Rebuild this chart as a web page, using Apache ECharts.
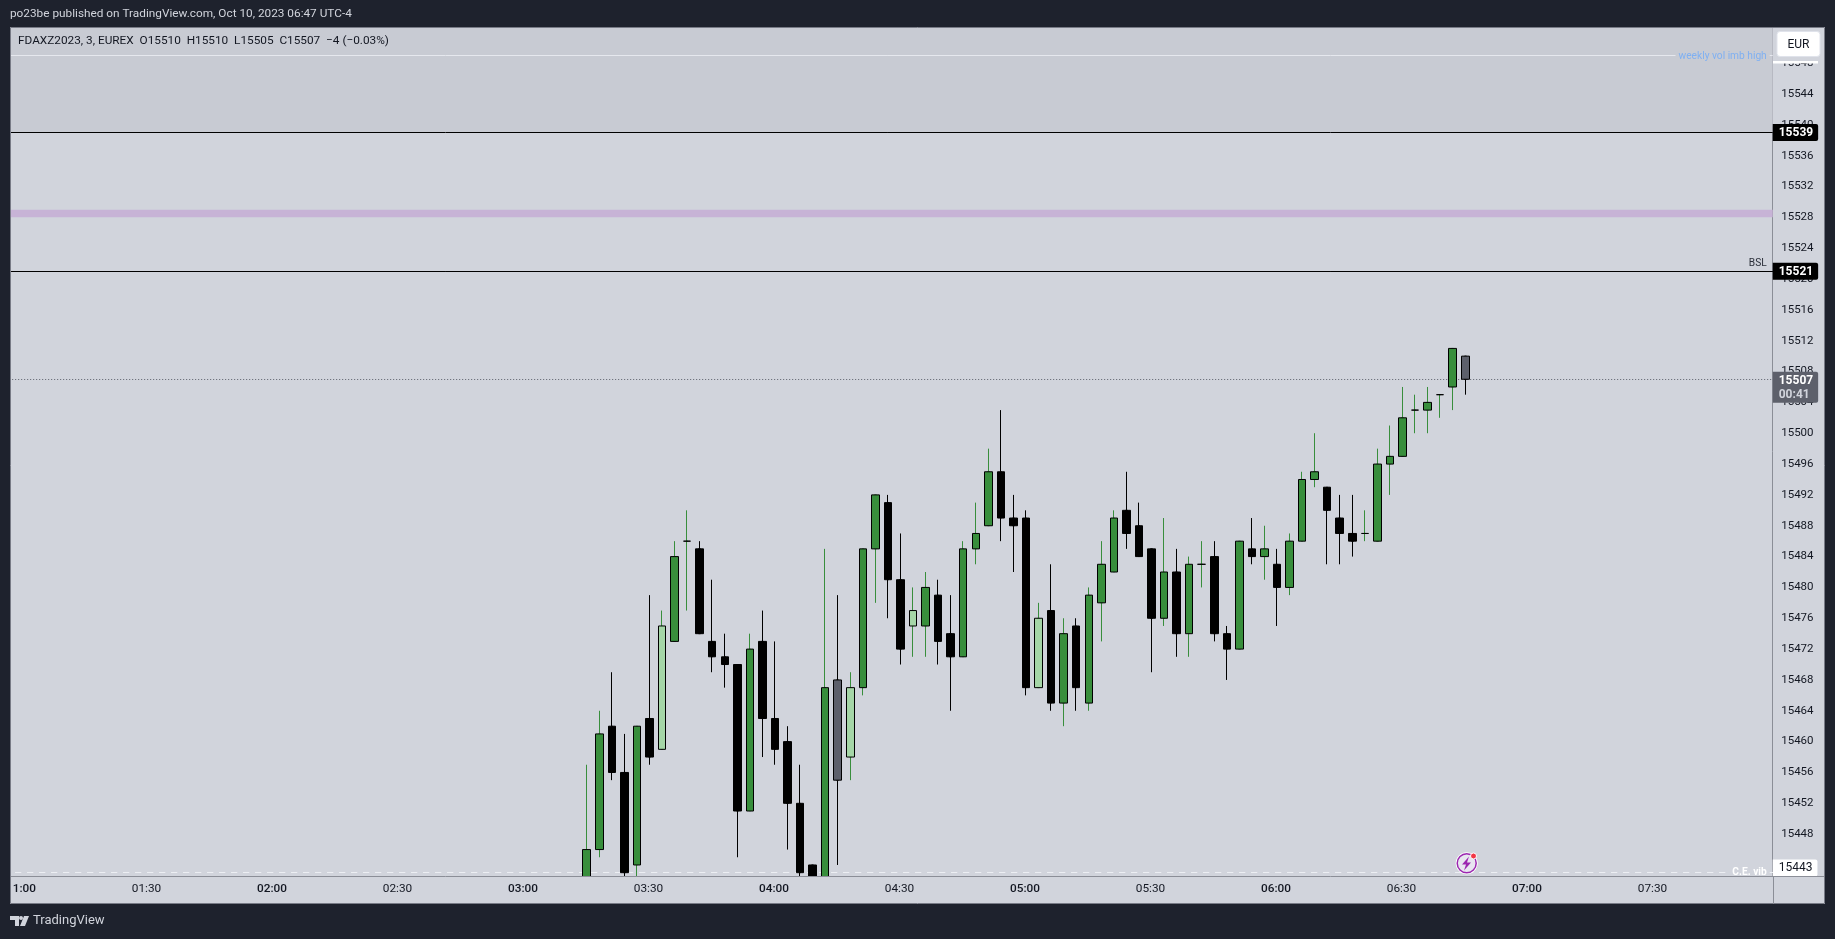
<!DOCTYPE html>
<html>
<head>
<meta charset="utf-8">
<title>FDAXZ2023, 3, EUREX</title>
<script src="https://cdn.jsdelivr.net/npm/echarts@6/dist/echarts.min.js"></script>
<style>
  html, body { margin: 0; padding: 0; background: #1e222d; }
  #chart { width: 1835px; height: 939px; }
</style>
</head>
<body>
<div id="chart"></div>
<script>
// 3 minute bars, 03:15 to 06:45
const firstBarTime = '03:15'
const opens = [15441, 15446, 15462, 15456, 15444, 15463, 15459, 15473, 15486, 15485, 15473, 15471, 15470, 15451, 15473, 15463, 15460, 15452, 15444, 15441, 15468, 15458, 15467, 15485, 15491, 15481, 15475, 15475, 15479, 15474, 15471, 15485, 15488, 15495, 15489, 15489, 15467, 15477, 15465, 15475, 15465, 15478, 15482, 15490, 15488, 15485, 15476, 15482, 15474, 15483, 15484, 15474, 15472, 15485, 15484, 15483, 15480, 15486, 15494, 15493, 15489, 15487, 15487, 15486, 15496, 15497, 15503, 15503, 15505, 15506, 15510]
const closes = [15446, 15461, 15456, 15443, 15462, 15458, 15475, 15484, 15486, 15474, 15471, 15470, 15451, 15472, 15463, 15459, 15452, 15443, 15441, 15467, 15455, 15467, 15485, 15492, 15481, 15472, 15477, 15480, 15473, 15471, 15485, 15487, 15495, 15489, 15488, 15467, 15476, 15465, 15474, 15467, 15479, 15483, 15489, 15487, 15484, 15476, 15482, 15474, 15483, 15483, 15474, 15472, 15486, 15484, 15485, 15480, 15486, 15494, 15495, 15490, 15487, 15486, 15487, 15496, 15497, 15502, 15503, 15504, 15505, 15511, 15507]
const lows = [15440, 15445, 15455, 15441, 15441, 15457, 15459, 15473, 15477, 15474, 15469, 15467, 15445, 15451, 15458, 15457, 15446, 15441, 15440, 15440, 15444, 15455, 15466, 15478, 15476, 15470, 15471, 15471, 15470, 15464, 15471, 15483, 15488, 15486, 15482, 15466, 15467, 15464, 15462, 15464, 15464, 15473, 15482, 15485, 15484, 15469, 15475, 15471, 15471, 15480, 15473, 15468, 15472, 15483, 15481, 15475, 15479, 15486, 15493, 15483, 15483, 15484, 15486, 15486, 15492, 15497, 15500, 15500, 15502, 15503, 15505]
const highs = [15457, 15464, 15469, 15461, 15462, 15479, 15477, 15486, 15490, 15486, 15481, 15474, 15470, 15474, 15477, 15473, 15462, 15457, 15444, 15485, 15479, 15469, 15485, 15492, 15492, 15487, 15480, 15482, 15481, 15479, 15486, 15491, 15498, 15503, 15492, 15490, 15478, 15483, 15476, 15476, 15480, 15486, 15490, 15495, 15491, 15485, 15489, 15485, 15484, 15486, 15486, 15475, 15486, 15489, 15488, 15485, 15487, 15495, 15500, 15493, 15492, 15492, 15490, 15498, 15501, 15506, 15505, 15506, 15505, 15511, 15510]
// bars painted in other colours
const paleBars = ['03:33', '04:18', '04:33', '05:03']
const greyBars = ['04:15', '06:45']

const priceTicks = [15444, 15448, 15452, 15456, 15460, 15464, 15468, 15472, 15476, 15480, 15484, 15488, 15492, 15496, 15500, 15504, 15508, 15512, 15516, 15520, 15524, 15528, 15532, 15536, 15540, 15544, 15548]

// levels drawn on the chart
const upperLevel = 15539
const lowerLevel = 15521
const lastPrice = 15507
const weeklyHigh = 15549
const ceLevel = 15443
const purpleBand = [15528, 15529]
const axisTop = 15552.69
const axisBottom = 15442.57

const GREEN = '#388e3c'
const PALE = '#a5d6a7'
const GREY = '#5d606b'
const PANE = '#d1d4dc'
const BAND = '#c8cbd3'
const FRAME = '#1e222d'
const FONT = 'Roboto, sans-serif'

function pad(n) {
  return n < 10 ? '0' + n : '' + n
}

// time axis runs one bar before 01:00 up to the right edge of the pane
const times = []
for (let m = 57; m <= 477; m += 3) {
  times.push(pad(Math.floor(m / 60)) + ':' + pad(m % 60))
}

const startIdx = times.indexOf(firstBarTime)
const wickData = []
const bodyData = []
times.forEach((t, i) => {
  const k = i - startIdx
  if (k < 0 || k >= opens.length) {
    wickData.push({ value: ['-', '-', '-', '-'] })
    bodyData.push({ value: ['-', '-', '-', '-'] })
    return
  }
  const o = opens[k]
  const c = closes[k]
  const wick = c < o ? '#000000' : GREEN
  let fill = c < o ? '#000000' : GREEN
  if (paleBars.indexOf(t) >= 0) fill = PALE
  if (greyBars.indexOf(t) >= 0) fill = GREY
  wickData.push({
    value: [o, c, lows[k], highs[k]],
    itemStyle: { color: wick, color0: wick, borderColor: wick, borderColor0: wick, borderColorDoji: wick },
  })
  bodyData.push({
    value: [o, c, Math.min(o, c), Math.max(o, c)],
    itemStyle: { color: fill, color0: fill },
  })
})

const blackLine = { color: '#000000', width: 1, type: 'solid' }
const dottedLine = { color: GREY, width: 1, type: [1, 2] }
const dashedLine = { color: '#eceef3', width: 1, type: [6, 6] }

// price tag on the axis, sits at the end of its line
function tag(value, text, bg, fg, line, weight, offset) {
  return {
    yAxis: value,
    lineStyle: line,
    label: {
      show: true,
      position: 'end',
      distance: 0,
      formatter: text,
      color: fg,
      fontFamily: FONT,
      fontSize: 12,
      fontWeight: weight,
      lineHeight: 14,
      backgroundColor: bg,
      borderRadius: [0, 2, 2, 0],
      padding: [2, 5, 1, 6],
      offset: offset || [0, 0],
      rich: { dim: { color: '#d1d4dc', fontFamily: FONT, fontSize: 12, lineHeight: 14 } },
    },
  }
}

function inner(value, text, color, pos, line, bg, weight, offset) {
  return {
    yAxis: value,
    lineStyle: line,
    label: {
      show: true,
      position: pos,
      distance: 3,
      formatter: text,
      color: color,
      fontFamily: FONT,
      fontSize: 10.2,
      fontWeight: weight || 'normal',
      backgroundColor: bg || 'transparent',
      padding: [0, 3],
      offset: offset || [0, 0],
    },
  }
}

const option = {
  animation: false,
  backgroundColor: PANE,
  grid: { left: 3.175, top: 27, width: 1769.55, height: 849 },
  xAxis: {
    type: 'category',
    z: 60,
    data: times,
    axisLine: { lineStyle: { color: '#8b8e97', width: 1 } },
    axisTick: { show: false },
    splitLine: { show: false },
    axisLabel: {
      interval: (i, t) => t.slice(3) === '00' || t.slice(3) === '30',
      margin: 7,
      fontFamily: FONT,
      fontSize: 11.8,
      color: '#131722',
      padding: [0, 2, 0, 0],
      formatter: (t) => (t.slice(3) === '00' ? '{b|' + t + '}' : t),
      rich: { b: { fontFamily: FONT, fontSize: 11.8, fontWeight: 500, color: '#131722' } },
    },
  },
  yAxis: {
    type: 'value',
    position: 'right',
    min: axisBottom,
    max: axisTop,
    axisLine: { show: true, lineStyle: { color: '#8b8e97', width: 1 } },
    axisTick: { show: false },
    splitLine: { show: false },
    axisLabel: {
      customValues: priceTicks,
      formatter: (v) => String(v),
      margin: 8.5,
      fontFamily: FONT,
      fontSize: 11.5,
      color: '#131722',
    },
  },
  series: [
    {
      name: 'wicks',
      type: 'candlestick',
      barWidth: 2,
      z: 2,
      data: wickData,
      markArea: {
        silent: true,
        z: 1,
        itemStyle: { color: BAND },
        data: [
          [{ yAxis: upperLevel }, { yAxis: axisTop }],
          [{ yAxis: purpleBand[0], itemStyle: { color: '#c7b3d6' } }, { yAxis: purpleBand[1] }],
        ],
      },
      markLine: {
        silent: true,
        symbol: 'none',
        z: 1,
        precision: 0,
        data: [
          inner(weeklyHigh, 'weekly vol imb high', '#7fb0f2', 'insideEnd', { color: '#e6e8ee', width: 1, type: 'solid' }, BAND, 'normal', [0, 1]),
          inner(lowerLevel, 'BSL', '#2a2e39', 'insideEndTop', blackLine),
          inner(ceLevel, 'C.E. vib', '#ffffff', 'insideEnd', dashedLine, PANE, 'bold'),
          tag(upperLevel, '15539', '#000000', '#ffffff', blackLine, 'bold'),
          tag(lowerLevel, '15521', '#000000', '#ffffff', blackLine, 'bold'),
          tag(lastPrice, '15507\n{dim|00:41}', GREY, '#ffffff', dottedLine, 'bold', [0, 8]),
          tag(ceLevel, '15443', '#ffffff', '#131722', dashedLine, 'normal', [0, -4.7]),
        ],
      },
    },
    {
      name: 'bodies',
      type: 'candlestick',
      barWidth: 8,
      z: 3,
      itemStyle: { borderColor: '#000000', borderColor0: '#000000', borderColorDoji: '#000000', borderWidth: 1 },
      data: bodyData,
    },
  ],
  // page chrome around the pane, TradingView snapshot style
  graphic: [
    // candles below the pane are cut off by the time strip
    { type: 'rect', z: 50, shape: { x: 0, y: 876, width: 1773, height: 28 }, style: { fill: PANE } },
    { type: 'rect', z: 70, shape: { x: 10, y: 877, width: 3, height: 27 }, style: { fill: PANE } },
    { type: 'rect', z: 100, shape: { x: 0, y: 0, width: 1835, height: 27 }, style: { fill: FRAME } },
    { type: 'rect', z: 100, shape: { x: 0, y: 0, width: 10, height: 939 }, style: { fill: FRAME } },
    { type: 'rect', z: 100, shape: { x: 1825, y: 0, width: 10, height: 939 }, style: { fill: FRAME } },
    { type: 'rect', z: 100, shape: { x: 0, y: 904, width: 1835, height: 35 }, style: { fill: FRAME } },
    { type: 'rect', z: 101, shape: { x: 10.5, y: 27.5, width: 1814, height: 876 }, style: { fill: 'transparent', stroke: '#787b86', lineWidth: 1 } },
    { type: 'line', z: 101, shape: { x1: 1773.5, y1: 876, x2: 1773.5, y2: 904 }, style: { stroke: '#8b8e97', lineWidth: 1 } },
    { type: 'line', z: 101, shape: { x1: 1773, y1: 876.5, x2: 1824, y2: 876.5 }, style: { stroke: '#8b8e97', lineWidth: 1 } },
    // currency button and the hidden tag edge under it
    { type: 'rect', z: 102, shape: { x: 1774, y: 28, width: 50, height: 33 }, style: { fill: PANE } },
    { type: 'rect', z: 102, shape: { x: 1773, y: 61, width: 45, height: 2.5 }, style: { fill: '#ffffff' } },
    { type: 'rect', z: 103, shape: { x: 1777, y: 31.5, width: 43, height: 25, r: 3 }, style: { fill: '#ffffff', stroke: '#e0e3eb', lineWidth: 1 } },
    { type: 'text', z: 104, x: 1798.5, y: 44.5, style: { text: 'EUR', fill: '#131722', font: '12px ' + FONT, textAlign: 'center', textVerticalAlign: 'middle' } },
    // titles
    { type: 'text', z: 104, x: 10, y: 14, style: { text: 'po23be published on TradingView.com, Oct 10, 2023 06:47 UTC-4', fill: '#d1d4dc', font: '11.8px ' + FONT, textVerticalAlign: 'middle' } },
    { type: 'text', z: 104, x: 18, y: 41, style: { text: 'FDAXZ2023, 3, EUREX  O15510  H15510  L15505  C15507  \u22124 (\u22120.03%)', fill: '#131722', font: '11.8px ' + FONT, textVerticalAlign: 'middle' } },
    // flash icon
    { type: 'circle', z: 104, shape: { cx: 1466.7, cy: 863.3, r: 11 }, style: { fill: '#ffffff' } },
    { type: 'circle', z: 105, shape: { cx: 1466.7, cy: 863.3, r: 9.5 }, style: { fill: '#e8e6f0', stroke: '#9c27b0', lineWidth: 1.5 } },
    { type: 'polygon', z: 106, shape: { points: [[1469, 856.5], [1462, 864.5], [1466, 864.5], [1464, 870.5], [1471, 862.5], [1467, 862.5]] }, style: { fill: '#9c27b0' } },
    { type: 'circle', z: 106, shape: { cx: 1473.5, cy: 856, r: 3 }, style: { fill: '#f23645', stroke: '#ffffff', lineWidth: 1 } },
    // logo
    { type: 'polygon', z: 104, shape: { points: [[10, 916], [19, 916], [19, 926], [15, 926], [15, 920], [10, 920]] }, style: { fill: '#d1d4dc' } },
    { type: 'circle', z: 104, shape: { cx: 21, cy: 918, r: 2 }, style: { fill: '#d1d4dc' } },
    { type: 'polygon', z: 104, shape: { points: [[24, 916], [29, 916], [25, 926], [20, 926]] }, style: { fill: '#d1d4dc' } },
    { type: 'text', z: 104, x: 33, y: 921, style: { text: 'TradingView', fill: '#d1d4dc', font: '13px ' + FONT, textVerticalAlign: 'middle' } },
  ],
}

const myChart = echarts.init(document.getElementById('chart'))
myChart.setOption(option)
</script>
</body>
</html>
